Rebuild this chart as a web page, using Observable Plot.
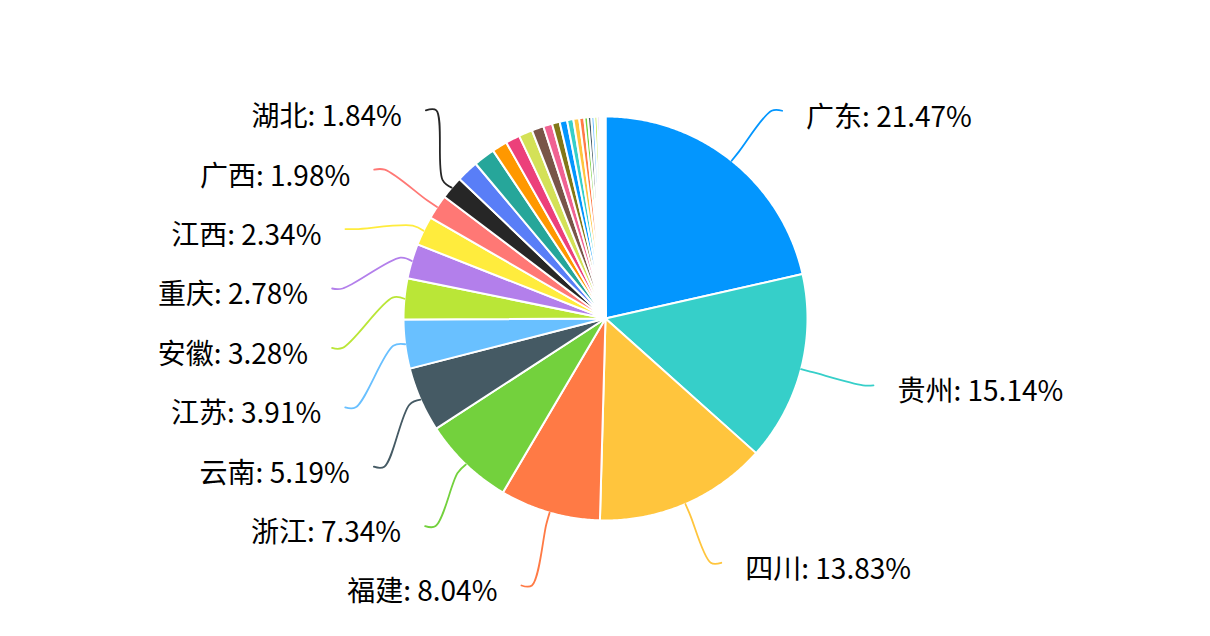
<!DOCTYPE html>
<html>
<head>
<meta charset="utf-8">
<script src="https://cdn.jsdelivr.net/npm/d3@7"></script>
<script src="https://cdn.jsdelivr.net/npm/@observablehq/plot@0.6"></script>
<style>
  html, body { margin: 0; padding: 0; background: #fff; overflow: hidden; }
  #chart svg { display: block; }
</style>
</head>
<body>
<div id="chart"></div>
<script>
// ---- data (percent share by province) ----
const names = ["广东", "贵州", "四川", "福建", "浙江", "云南", "江苏", "安徽", "重庆", "江西", "广西", "湖北",
  "河南", "湖南", "山东", "河北", "陕西", "海南", "上海", "北京", "天津", "辽宁", "吉林", "黑龙江",
  "山西", "内蒙古", "甘肃", "宁夏", "青海", "新疆", "西藏", "台湾", "香港", "澳门"];
const values = [21.47, 15.14, 13.83, 8.04, 7.34, 5.19, 3.91, 3.28, 2.78, 2.34, 1.98, 1.84,
  1.75, 1.72, 1.22, 1.14, 1.10, 0.95, 0.72, 0.61, 0.60, 0.50, 0.47, 0.40,
  0.29, 0.27, 0.25, 0.23, 0.18, 0.15, 0.12, 0.09, 0.06, 0.04];
const palette = ["#0396fe", "#36cfc9", "#ffc53d", "#ff7a45", "#73d13d", "#455a64", "#69c0ff", "#bae637",
  "#b37feb", "#ffec3d", "#ff7875", "#262626", "#597ef7", "#26a69a", "#ff9800", "#ec407a",
  "#d4e157", "#795548", "#f06292", "#827717"];
const labelMin = 1.8; // slices whose label is shown

// ---- geometry (pixel units around the pie centre) ----
const W = 1210, H = 636;
const R = 202, LEN = 64, LEN2 = 10.5, RA = R + LEN, RC = 275;
const GAP = 59.4, BOTTOM = 267, TOP = -300, TEXT_GAP = 24;

const colors = names.map((_, i) => palette[i % palette.length]);
const rows = names.map((name, i) => ({name, value: values[i], i}));
const arcs = d3.pie().sort(null).value(d => d.value)(rows);

// slice polygons
const slicePts = [];
for (const a of arcs) {
  const span = a.endAngle - a.startAngle;
  const n = Math.max(2, Math.ceil(span / (Math.PI / 360)) + 1);
  slicePts.push({name: a.data.name, x: 0, y: 0});
  for (let k = 0; k < n; k++) {
    const t = a.startAngle + span * k / (n - 1);
    slicePts.push({name: a.data.name, x: R * Math.sin(t), y: R * Math.cos(t)});
  }
}

// label layout (screen-down y for layout)
const labels = arcs.filter(a => a.data.value >= labelMin).map(a => {
  const mid = (a.startAngle + a.endAngle) / 2;
  const s = Math.sin(mid), c = Math.cos(mid);
  const side = s < 0 ? -1 : 1;
  return {name: a.data.name, value: a.data.value, s, c, side,
    ly: -RA * c, ex: RA * s + side * LEN2, adjusted: false};
});
function layoutSide(items) {
  if (!items.length) return;
  items.sort((a, b) => a.ly - b.ly);
  let adjusted = false;
  for (let i = 1; i < items.length; i++) {
    const min = items[i - 1].ly + GAP;
    if (items[i].ly < min) { items[i].ly = min; adjusted = true; }
  }
  const last = items[items.length - 1];
  if (last.ly > BOTTOM) {
    const sh = Math.min(last.ly - BOTTOM, Math.max(0, items[0].ly - TOP));
    items.forEach(d => d.ly -= sh);
    adjusted = true;
  }
  if (adjusted) items.forEach(d => {
    const dy = Math.abs(d.ly);
    if (dy < RA) d.ex = d.side * Math.sqrt(RC * RC - dy * dy);
  });
}
layoutSide(labels.filter(d => d.side < 0));
layoutSide(labels.filter(d => d.side > 0));

const leaderPts = [];
for (const d of labels) {
  const yl = -d.ly;
  leaderPts.push({name: d.name, x: R * d.s, y: R * d.c});
  leaderPts.push({name: d.name, x: (R + 12) * d.s, y: (R + 12) * d.c});
  leaderPts.push({name: d.name, x: d.ex - d.side * LEN2, y: yl});
  leaderPts.push({name: d.name, x: d.ex, y: yl});
}
const textRows = labels.map(d => ({
  side: d.side, x: d.ex + d.side * TEXT_GAP, y: -d.ly,
  text: `${d.name}: ${d.value.toFixed(2)}%`
}));

const font = "'Noto Sans CJK SC', 'Noto Sans', sans-serif";
const plot = Plot.plot({
  width: W, height: H, margin: 0,
  x: {domain: [-W / 2, W / 2], axis: null},
  y: {domain: [-H / 2, H / 2], axis: null},
  color: {domain: names, range: colors},
  style: {fontFamily: font, background: "#fff"},
  marks: [
    Plot.line(slicePts, {x: "x", y: "y", z: "name", fill: "name", stroke: "#fff",
      strokeWidth: 2, strokeLinejoin: "round", curve: "linear-closed"}),
    Plot.line(leaderPts, {x: "x", y: "y", z: "name", stroke: "name", strokeWidth: 1.8,
      curve: "catmull-rom"}),
    Plot.text(textRows.filter(d => d.side < 0), {x: "x", y: "y", text: "text", textAnchor: "end",
      dy: 7, fontSize: 28, fill: "#000", fontFamily: font}),
    Plot.text(textRows.filter(d => d.side > 0), {x: "x", y: "y", text: "text", textAnchor: "start",
      dy: 7, fontSize: 28, fill: "#000", fontFamily: font})
  ]
});
document.getElementById("chart").append(plot);
</script>
</body>
</html>
